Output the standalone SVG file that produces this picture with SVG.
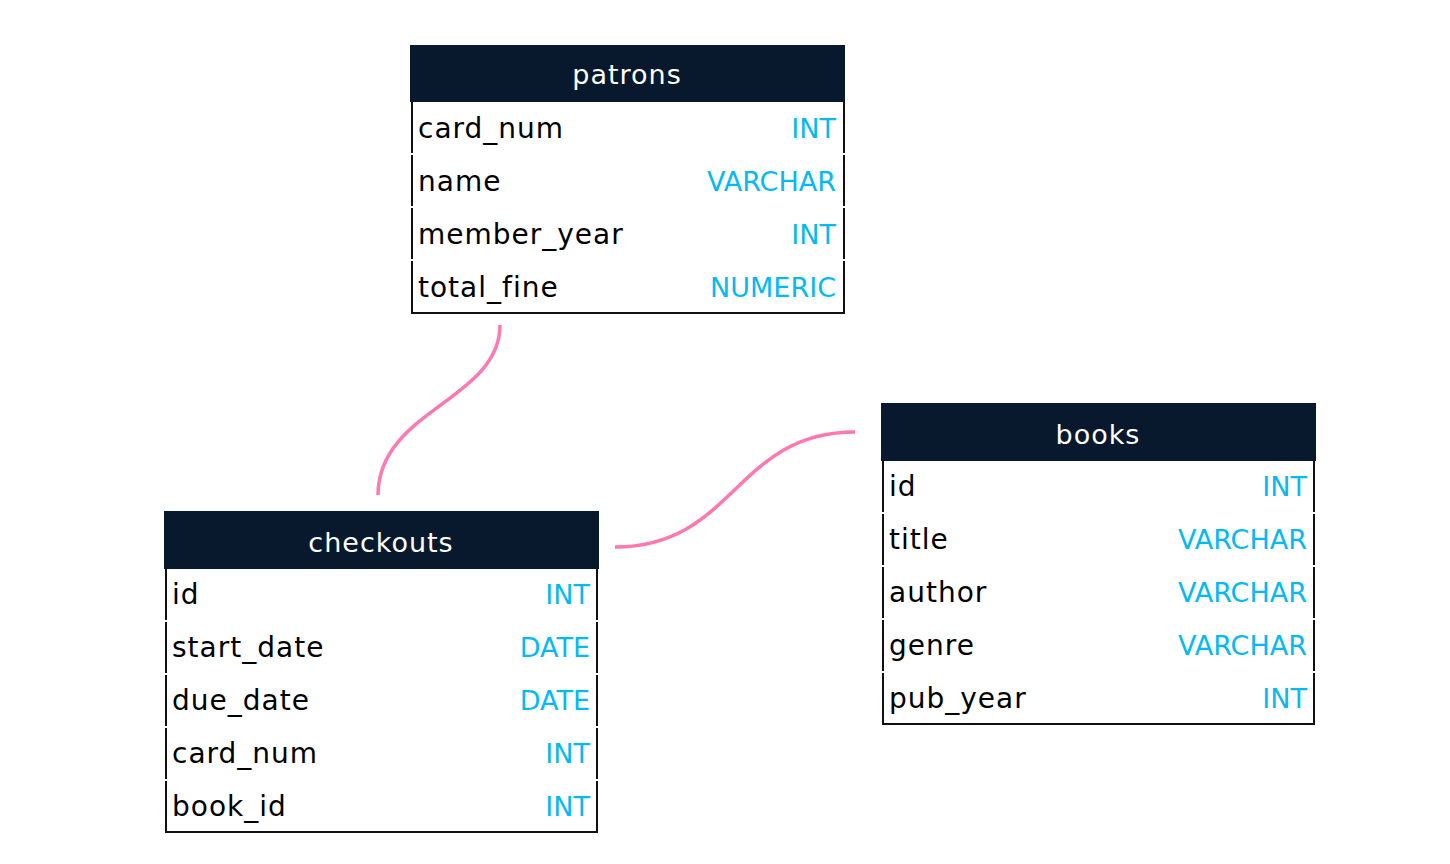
<svg xmlns="http://www.w3.org/2000/svg" width="1450" height="864" viewBox="0 0 1450 864">
<style>
.hdr{fill:#08192d}
.ht{fill:#ffffff;font-family:"DejaVu Sans","Noto Sans",sans-serif;font-size:27px;letter-spacing:1px;text-anchor:middle}
.fn{fill:#000000;font-family:"DejaVu Sans","Noto Sans",sans-serif;font-size:28px;letter-spacing:1px}
.ty{fill:#05b9f4;font-family:"DejaVu Sans","Noto Sans",sans-serif;font-size:27px;text-anchor:end}
.bd{stroke:#111111;stroke-width:2;fill:none}
.cn{stroke:#ff78b0;stroke-width:3.5;fill:none}
</style>
<rect width="1450" height="864" fill="#ffffff"/>
<g id="connectors">
<path class="cn" d="M500,325 C500,400 378,410 378,495"/>
<path class="cn" d="M615,547 C735,547 735,432 855,432"/>
</g>
<g id="patrons">
<rect class="hdr" x="410" y="45" width="435" height="57"/>
<text class="ht" x="627" y="84">patrons</text>
<path class="bd" d="M412,102V153M412,155V206M412,208V259M412,261V313H844V261M844,259V208M844,206V155M844,153V102"/>
<text class="fn" x="418" y="138">card_num</text><text class="ty" x="836" y="138">INT</text>
<text class="fn" x="418" y="191">name</text><text class="ty" x="836" y="191">VARCHAR</text>
<text class="fn" x="418" y="244">member_year</text><text class="ty" x="836" y="244">INT</text>
<text class="fn" x="418" y="297">total_fine</text><text class="ty" x="836" y="297">NUMERIC</text>
</g>
<g id="checkouts">
<rect class="hdr" x="164" y="511" width="435" height="58"/>
<text class="ht" x="381" y="552">checkouts</text>
<path class="bd" d="M166,569V620M166,622V673M166,675V726M166,728V779M166,781V832H597V781M597,779V728M597,726V675M597,673V622M597,620V569"/>
<text class="fn" x="172" y="604">id</text><text class="ty" x="590" y="604">INT</text>
<text class="fn" x="172" y="657">start_date</text><text class="ty" x="590" y="657">DATE</text>
<text class="fn" x="172" y="710">due_date</text><text class="ty" x="590" y="710">DATE</text>
<text class="fn" x="172" y="763">card_num</text><text class="ty" x="590" y="763">INT</text>
<text class="fn" x="172" y="816">book_id</text><text class="ty" x="590" y="816">INT</text>
</g>
<g id="books">
<rect class="hdr" x="881" y="403" width="435" height="58"/>
<text class="ht" x="1098" y="444">books</text>
<path class="bd" d="M883,461V512M883,514V565M883,567V618M883,620V671M883,673V724H1314V673M1314,671V620M1314,618V567M1314,565V514M1314,512V461"/>
<text class="fn" x="889" y="496">id</text><text class="ty" x="1307" y="496">INT</text>
<text class="fn" x="889" y="549">title</text><text class="ty" x="1307" y="549">VARCHAR</text>
<text class="fn" x="889" y="602">author</text><text class="ty" x="1307" y="602">VARCHAR</text>
<text class="fn" x="889" y="655">genre</text><text class="ty" x="1307" y="655">VARCHAR</text>
<text class="fn" x="889" y="708">pub_year</text><text class="ty" x="1307" y="708">INT</text>
</g>
</svg>
